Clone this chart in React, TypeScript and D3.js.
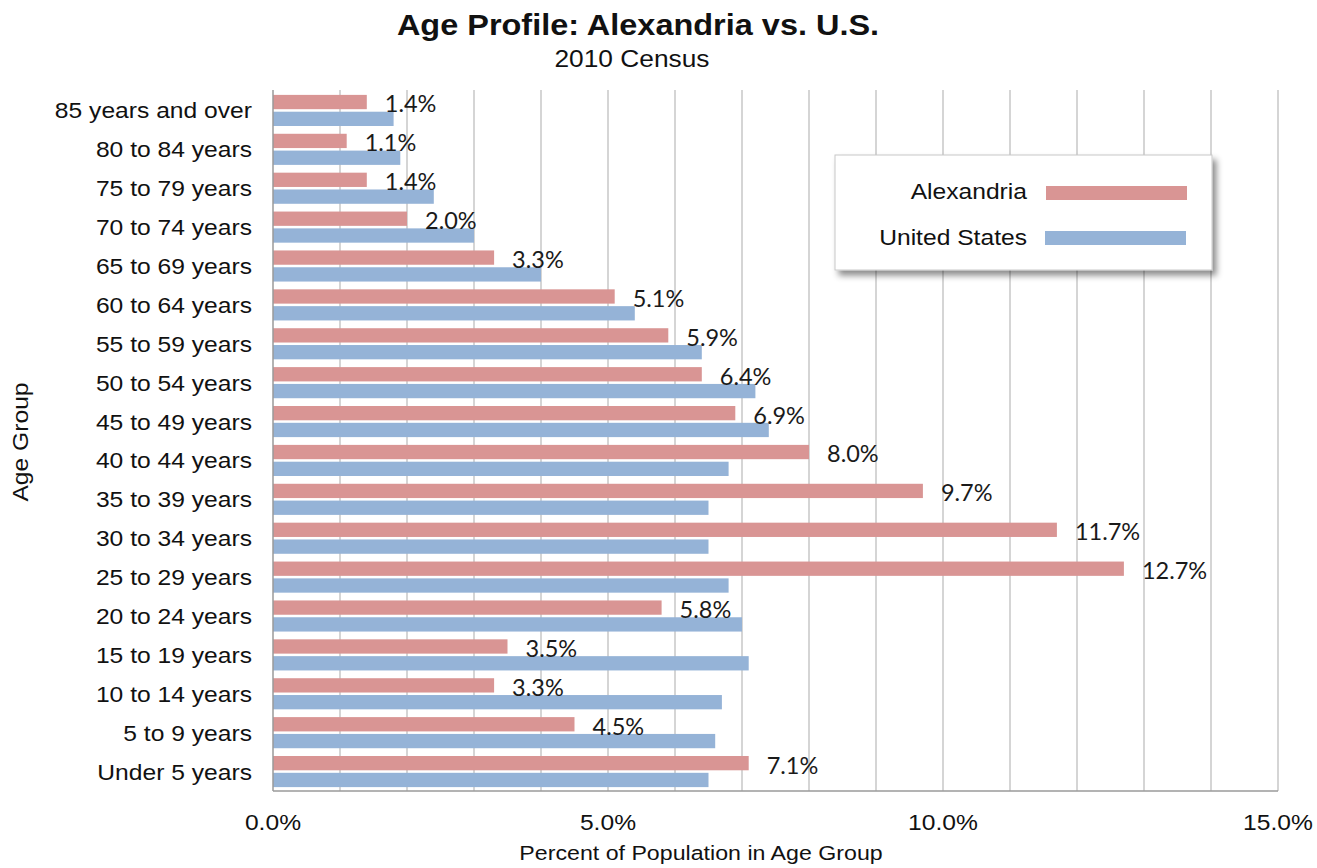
import React, { useMemo } from "react";
import * as d3 from "d3";

const WIDTH = 1317;
const HEIGHT = 868;

const ageGroups = [
  "85 years and over",
  "80 to 84 years",
  "75 to 79 years",
  "70 to 74 years",
  "65 to 69 years",
  "60 to 64 years",
  "55 to 59 years",
  "50 to 54 years",
  "45 to 49 years",
  "40 to 44 years",
  "35 to 39 years",
  "30 to 34 years",
  "25 to 29 years",
  "20 to 24 years",
  "15 to 19 years",
  "10 to 14 years",
  "5 to 9 years",
  "Under 5 years",
];

// percent of population, same order as ageGroups
const alexandria = [1.4, 1.1, 1.4, 2.0, 3.3, 5.1, 5.9, 6.4, 6.9, 8.0, 9.7, 11.7, 12.7, 5.8, 3.5, 3.3, 4.5, 7.1];
const unitedStates = [1.8, 1.9, 2.4, 3.0, 4.0, 5.4, 6.4, 7.2, 7.4, 6.8, 6.5, 6.5, 6.8, 7.0, 7.1, 6.7, 6.6, 6.5];

const seriesNames = ["Alexandria", "United States"];
const colors = ["#d99594", "#95b3d7"];
const xTicks = [0, 5, 10, 15];

const PLOT = { left: 273, right: 1278, top: 91, bottom: 791 };
const ARIAL = "'Liberation Sans', Arial, sans-serif";
const STRETCH = 1.12; // the original text is a bit wider than Arial

const Wide = ({ x, y, anchor = "start", size = 22, weight = "normal", rotate = 0, children }: any) => (
  <text
    transform={`translate(${x},${y}) rotate(${rotate}) scale(${STRETCH},1)`}
    textAnchor={anchor}
    fontFamily={ARIAL}
    fontSize={size}
    fontWeight={weight}
    fill="#111"
  >
    {children}
  </text>
);

const App = () => {
  const x = useMemo(() => d3.scaleLinear().domain([0, 15]).range([PLOT.left, PLOT.right]), []);
  const y = useMemo(
    () => d3.scaleBand().domain(ageGroups).range([PLOT.top, PLOT.bottom]).paddingInner(0.2).paddingOuter(0.1),
    []
  );
  const ySub = useMemo(
    () => d3.scaleBand().domain(seriesNames).range([0, y.bandwidth()]).paddingInner(0.15),
    [y]
  );
  const grid = d3.range(1, 16);

  return (
    <svg width={WIDTH} height={HEIGHT} style={{ position: "absolute", left: 0, top: 0, background: "#fff" }}>
      <defs>
        <filter id="shadow" x="-10%" y="-10%" width="130%" height="140%">
          <feDropShadow dx="4" dy="5" stdDeviation="3" floodColor="#000" floodOpacity="0.45" />
        </filter>
      </defs>

      {/* title */}
      <Wide x={638} y={35} anchor="middle" size={29} weight="bold">
        Age Profile: Alexandria vs. U.S.
      </Wide>
      <Wide x={632} y={67} anchor="middle" size={23.5}>
        2010 Census
      </Wide>

      {/* gridlines */}
      {grid.map((t) => (
        <line key={t} x1={x(t)} x2={x(t)} y1={PLOT.top - 1} y2={PLOT.bottom} stroke="#cbcbcb" strokeWidth={1.6} />
      ))}

      {/* bars */}
      {ageGroups.map((g, i) => {
        const vals = [alexandria[i], unitedStates[i]];
        return (
          <g key={g} transform={`translate(0,${y(g)})`}>
            {seriesNames.map((s, j) => (
              <rect
                key={s}
                x={x(0)}
                y={ySub(s)}
                width={x(vals[j]) - x(0)}
                height={ySub.bandwidth()}
                fill={colors[j]}
              />
            ))}
            <text
              x={x(alexandria[i]) + 18}
              y={(ySub("Alexandria") as number) + 17.5}
              fontFamily="Lato, 'Open Sans', sans-serif"
              fontSize={23.5}
              fill="#1a1a1a"
            >
              {alexandria[i].toFixed(1)}%
            </text>
          </g>
        );
      })}

      {/* axes lines */}
      <line x1={PLOT.left} x2={PLOT.left} y1={PLOT.top - 1} y2={PLOT.bottom} stroke="#9a9a9a" strokeWidth={1.5} />
      <line x1={PLOT.left} x2={PLOT.right} y1={PLOT.bottom} y2={PLOT.bottom} stroke="#9a9a9a" strokeWidth={1.5} />

      {/* y tick labels */}
      {ageGroups.map((g) => (
        <Wide key={g} x={252} y={(y(g) as number) + y.bandwidth() / 2 + 8} anchor="end">
          {g}
        </Wide>
      ))}

      {/* x tick labels */}
      {xTicks.map((t) => (
        <Wide key={t} x={x(t)} y={830} anchor="middle">
          {t.toFixed(1)}%
        </Wide>
      ))}

      {/* axis titles */}
      <Wide x={701} y={860} anchor="middle" size={20.7}>
        Percent of Population in Age Group
      </Wide>
      <Wide x={28} y={442} anchor="middle" rotate={-90}>
        Age Group
      </Wide>

      {/* legend */}
      <g>
        <rect x={835} y={155} width={377} height={115} fill="#fff" stroke="#c8c8c8" filter="url(#shadow)" />
        {seriesNames.map((s, j) => (
          <g key={s}>
            <Wide x={1027} y={199 + j * 46} anchor="end">
              {s}
            </Wide>
            <rect x={1046 - j} y={186 + j * 45} width={141} height={14} fill={colors[j]} />
          </g>
        ))}
      </g>
    </svg>
  );
};

export default App;
